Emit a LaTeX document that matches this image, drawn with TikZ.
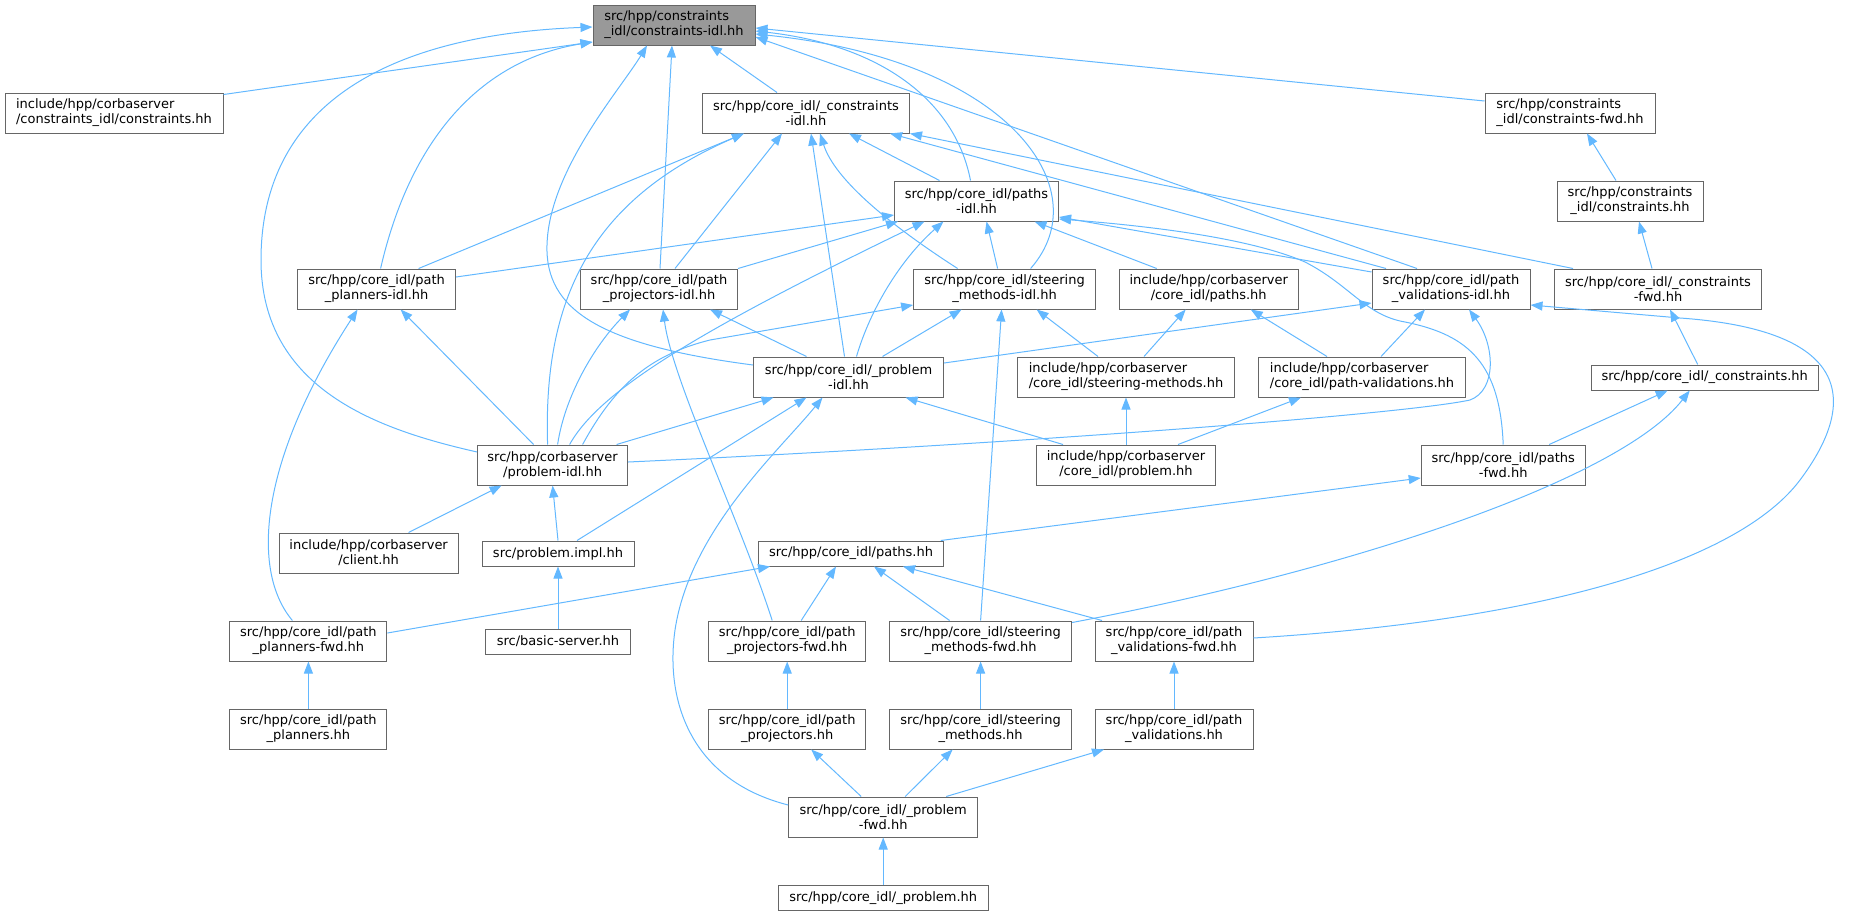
\documentclass[tikz,border=0pt]{standalone}
\usepackage{fontspec}
\setmainfont{DejaVu Sans}
\usepackage{xcolor}
\usepackage{tikz}
\usetikzlibrary{arrows.meta}
\definecolor{edgeblue}{HTML}{63B8FF}
\definecolor{boxgray}{HTML}{666666}
\definecolor{rootgray}{HTML}{999999}

\begin{document}
\begin{tikzpicture}[x=1pt,y=-1pt,
  file/.style={draw=boxgray,fill=white,line width=1pt,minimum height=40pt,inner sep=0pt,align=center,font=\fontsize{13}{15}\selectfont},
  oneline/.style={minimum height=25pt},
  inc/.style={draw=edgeblue,line width=1pt,-{Triangle[length=12pt,width=9pt]}}]
\useasboundingbox (0,0) rectangle (1849,916);

\node[file,fill=rootgray,align=left,minimum width=162pt] (root) at (674,25) {src/hpp/constraints\\\_idl/constraints-idl.hh};

\node[file,align=left,minimum width=218pt] (n1) at (114,113) {include/hpp/corbaserver\\/constraints\_idl/constraints.hh};
\node[file,minimum width=207pt] (cIdl) at (806,113) {src/hpp/core\_idl/\_constraints\\-idl.hh};
\node[file,align=left,minimum width=170pt] (cFwd) at (1570,113) {src/hpp/constraints\\\_idl/constraints-fwd.hh};

\node[file,minimum width=164pt] (pathsIdl) at (976.5,201) {src/hpp/core\_idl/paths\\-idl.hh};
\node[file,minimum width=146pt] (cHH) at (1630,201) {src/hpp/constraints\\\_idl/constraints.hh};

\node[file,minimum width=158pt] (ppIdl) at (376.6,289) {src/hpp/core\_idl/path\\\_planners-idl.hh};
\node[file,minimum width=157pt] (pjIdl) at (659,289) {src/hpp/core\_idl/path\\\_projectors-idl.hh};
\node[file,minimum width=182pt] (smIdl) at (1004.6,289) {src/hpp/core\_idl/steering\\\_methods-idl.hh};
\node[file,minimum width=179pt] (inclPaths) at (1208.7,289) {include/hpp/corbaserver\\/core\_idl/paths.hh};
\node[file,minimum width=158pt] (pvIdl) at (1451,289) {src/hpp/core\_idl/path\\\_validations-idl.hh};
\node[file,minimum width=207pt] (cFwd2) at (1658,289) {src/hpp/core\_idl/\_constraints\\-fwd.hh};

\node[file,minimum width=190pt] (prIdl) at (848.5,377) {src/hpp/core\_idl/\_problem\\-idl.hh};
\node[file,align=left,minimum width=217pt] (inclSm) at (1126,377) {include/hpp/corbaserver\\/core\_idl/steering-methods.hh};
\node[file,align=left,minimum width=207pt] (inclPv) at (1362,377) {include/hpp/corbaserver\\/core\_idl/path-validations.hh};
\node[file,oneline,minimum width=227pt] (cons) at (1704.7,377.5) {src/hpp/core\_idl/\_constraints.hh};

\node[file,minimum width=150pt] (probIdl) at (552.6,465) {src/hpp/corbaserver\\/problem-idl.hh};
\node[file,minimum width=178.5pt] (inclProb) at (1126,465) {include/hpp/corbaserver\\/core\_idl/problem.hh};
\node[file,minimum width=164pt] (pathsFwd) at (1503.2,465) {src/hpp/core\_idl/paths\\-fwd.hh};

\node[file,minimum width=179pt] (client) at (368.6,553) {include/hpp/corbaserver\\/client.hh};
\node[file,oneline,minimum width=152pt] (impl) at (558,553.5) {src/problem.impl.hh};
\node[file,oneline,minimum width=184.5pt] (paths) at (851,553.5) {src/hpp/core\_idl/paths.hh};

\node[file,minimum width=157pt] (ppFwd) at (308.4,641) {src/hpp/core\_idl/path\\\_planners-fwd.hh};
\node[file,oneline,minimum width=145pt] (basic) at (558,641.5) {src/basic-server.hh};
\node[file,minimum width=157pt] (pjFwd) at (787.2,641) {src/hpp/core\_idl/path\\\_projectors-fwd.hh};
\node[file,minimum width=182pt] (smFwd) at (980.6,641) {src/hpp/core\_idl/steering\\\_methods-fwd.hh};
\node[file,minimum width=158pt] (pvFwd) at (1174,641) {src/hpp/core\_idl/path\\\_validations-fwd.hh};

\node[file,minimum width=157pt] (ppHH) at (308.4,729) {src/hpp/core\_idl/path\\\_planners.hh};
\node[file,minimum width=157pt] (pjHH) at (787.2,729) {src/hpp/core\_idl/path\\\_projectors.hh};
\node[file,minimum width=182pt] (smHH) at (980.6,729) {src/hpp/core\_idl/steering\\\_methods.hh};
\node[file,minimum width=158pt] (pvHH) at (1174,729) {src/hpp/core\_idl/path\\\_validations.hh};

\node[file,minimum width=189pt] (prFwd) at (883.2,817) {src/hpp/core\_idl/\_problem\\-fwd.hh};
\node[file,oneline,minimum width=210pt] (prHH) at (883.2,898) {src/hpp/core\_idl/\_problem.hh};

\draw[inc] ([yshift=-2pt]n1.north east) -- ([yshift=-17pt]root.west);
\draw[inc] ([yshift=13pt]probIdl.west) .. controls (380,430) and (261,390) .. (261,260) .. controls (261,110) and (380,35) .. ([yshift=-2pt]root.west);
\draw[inc] ([xshift=4pt]ppIdl.north) .. controls (410,140) and (480,60) .. ([yshift=-17pt]root.west);
\draw[inc] ([yshift=12pt]prIdl.west) .. controls (600,345) and (545,310) .. (547,245) .. controls (549,170) and (620,90) .. ([xshift=-27pt]root.south);
\draw[inc] ([xshift=1pt]pjIdl.north) -- ([xshift=-2pt]root.south);
\draw[inc] ([xshift=-29pt]cIdl.north) -- ([xshift=36pt]root.south);
\draw[inc] ([yshift=12pt]cFwd.west) -- ([yshift=-3pt]root.east);
\draw[inc] ([xshift=-6pt]pathsIdl.north) .. controls (955,100) and (880,45) .. ([yshift=-6pt]root.east);
\draw[inc] ([xshift=26pt]smIdl.north) .. controls (1100,190) and (1010,60) .. ([yshift=-9pt]root.east);
\draw[inc] ([xshift=-34pt]pvIdl.north) -- ([yshift=-12pt]root.east);

\draw[inc] ([xshift=42pt]ppIdl.north) -- ([xshift=-62pt]cIdl.south);
\draw[inc] ([xshift=-5pt]probIdl.north) .. controls (543,300) and (590,200) .. ([xshift=-62pt]cIdl.south);
\draw[inc] ([xshift=16pt]pjIdl.north) -- ([xshift=-24pt]cIdl.south);
\draw[inc] ([xshift=-4pt]prIdl.north) -- ([xshift=5pt]cIdl.south);
\draw[inc] ([xshift=-47pt]smIdl.north) .. controls (890,225) and (835,180) .. ([xshift=14pt]cIdl.south);
\draw[inc] ([xshift=-37pt]pathsIdl.north) -- ([xshift=43pt]cIdl.south);
\draw[inc] ([xshift=-65pt]pvIdl.north) -- ([xshift=84pt]cIdl.south);
\draw[inc] ([xshift=-85pt]cFwd2.north) -- (cIdl.south east);

\draw[inc] ([yshift=12pt]ppIdl.east) -- ([yshift=-14pt]pathsIdl.west);
\draw[inc] (pjIdl.north east) -- ([xshift=4pt]pathsIdl.south west);
\draw[inc] ([xshift=17pt]probIdl.north) .. controls (600,390) and (700,330) .. ([xshift=-52pt]pathsIdl.south);
\draw[inc] ([xshift=8pt]prIdl.north) .. controls (870,310) and (900,260) .. ([xshift=-33pt]pathsIdl.south);
\draw[inc] ([xshift=-7pt]smIdl.north) -- ([xshift=10pt]pathsIdl.south);
\draw[inc] ([xshift=-52pt]inclPaths.north) -- ([xshift=58pt]pathsIdl.south);
\draw[inc] ([yshift=17pt]pvIdl.west) -- ([yshift=-16pt]pathsIdl.east);
\draw[inc] (pathsFwd.north) .. controls (1500,365) and (1470,335) .. (1405,322) .. controls (1365,315) and (1350,285) .. (1305,262) .. controls (1250,238) and (1150,226) .. ([yshift=-18pt]pathsIdl.east);

\draw[inc] ([xshift=34pt]prIdl.north) -- ([xshift=-43pt]smIdl.south);
\draw[inc] ([xshift=30pt]probIdl.north) .. controls (615,385) and (650,355) .. (710,340) -- ([yshift=-16pt]smIdl.west);
\draw[inc] ([xshift=-28pt]inclSm.north) -- ([xshift=32pt]smIdl.south);
\draw[inc] (smFwd.north) -- ([xshift=-3pt]smIdl.south);

\draw[inc] ([yshift=14pt]prIdl.east) -- ([yshift=-14pt]pvIdl.west);
\draw[inc] ([xshift=19pt]inclPv.north) -- ([xshift=-26pt]pvIdl.south);
\draw[inc] ([yshift=3pt]probIdl.east) .. controls (1000,445) and (1400,415) .. (1470,400) .. controls (1497,390) and (1495,345) .. ([xshift=18pt]pvIdl.south);
\draw[inc] ([yshift=3pt]pvFwd.east) .. controls (1550,620) and (1740,560) .. (1800,480) .. controls (1860,400) and (1850,330) .. (1680,318) -- ([yshift=-16pt]pvIdl.east);

\draw[inc] ([xshift=-42pt]prIdl.north) -- ([xshift=51pt]pjIdl.south);
\draw[inc] ([xshift=5pt]probIdl.north) .. controls (565,395) and (595,345) .. ([xshift=-29pt]pjIdl.south);
\draw[inc] ([xshift=-15pt]pjFwd.north) .. controls (740,520) and (672,380) .. ([xshift=4pt]pjIdl.south);

\draw[inc] ([xshift=-19pt]probIdl.north) -- ([xshift=24pt]ppIdl.south);
\draw[inc] ([xshift=-16pt]ppFwd.north) .. controls (250,570) and (260,460) .. ([xshift=-19pt]ppIdl.south);

\draw[inc] ([xshift=64pt]probIdl.north) -- ([xshift=-75pt]prIdl.south);
\draw[inc] ([xshift=19pt]impl.north) -- ([xshift=-42pt]prIdl.south);
\draw[inc] ([yshift=12pt]prFwd.west) .. controls (690,780) and (665,700) .. (675,630) .. controls (690,530) and (780,450) .. ([xshift=-26pt]prIdl.south);
\draw[inc] ([xshift=-63pt]inclProb.north) -- ([xshift=57pt]prIdl.south);

\draw[inc] ([xshift=18pt]inclSm.north) -- ([xshift=-23pt]inclPaths.south);
\draw[inc] ([xshift=-35pt]inclPv.north) -- ([xshift=42pt]inclPaths.south);
\draw[inc] (inclProb.north) -- (inclSm.south);
\draw[inc] ([xshift=52pt]inclProb.north) -- ([xshift=-61pt]inclPv.south);

\draw[inc] ([xshift=-14pt]cHH.north) -- ([xshift=17pt]cFwd.south);
\draw[inc] ([xshift=-6pt]cFwd2.north) -- ([xshift=9pt]cHH.south);
\draw[inc] ([xshift=-7pt]cons.north) -- ([xshift=12pt]cFwd2.south);
\draw[inc] ([xshift=46pt]pathsFwd.north) -- ([xshift=-37pt]cons.south);
\draw[inc] ([yshift=-2pt]smFwd.north east) .. controls (1350,570) and (1620,480) .. ([xshift=-15pt]cons.south);

\draw[inc] ([xshift=-3pt]paths.north east) -- ([yshift=-13pt]pathsFwd.west);
\draw[inc] ([yshift=8pt]ppFwd.east) -- ([xshift=-81pt]paths.south);
\draw[inc] ([xshift=14pt]pjFwd.north) -- ([xshift=-15pt]paths.south);
\draw[inc] ([xshift=-31pt]smFwd.north) -- ([xshift=23pt]paths.south);
\draw[inc] ([xshift=-72pt]pvFwd.north) -- ([xshift=52pt]paths.south);

\draw[inc] (ppHH.north) -- (ppFwd.south);
\draw[inc] (pjHH.north) -- (pjFwd.south);
\draw[inc] (smHH.north) -- (smFwd.south);
\draw[inc] (pvHH.north) -- (pvFwd.south);

\draw[inc] ([xshift=-22pt]prFwd.north) -- ([xshift=24pt]pjHH.south);
\draw[inc] ([xshift=22pt]prFwd.north) -- ([xshift=-28pt]smHH.south);
\draw[inc] ([xshift=63pt]prFwd.north) -- ([xshift=-70pt]pvHH.south);
\draw[inc] (prHH.north) -- (prFwd.south);

\draw[inc] ([xshift=40pt]client.north) -- ([xshift=-51pt]probIdl.south);
\draw[inc] (impl.north) -- (probIdl.south);
\draw[inc] (basic.north) -- (impl.south);
\end{tikzpicture}
\end{document}
